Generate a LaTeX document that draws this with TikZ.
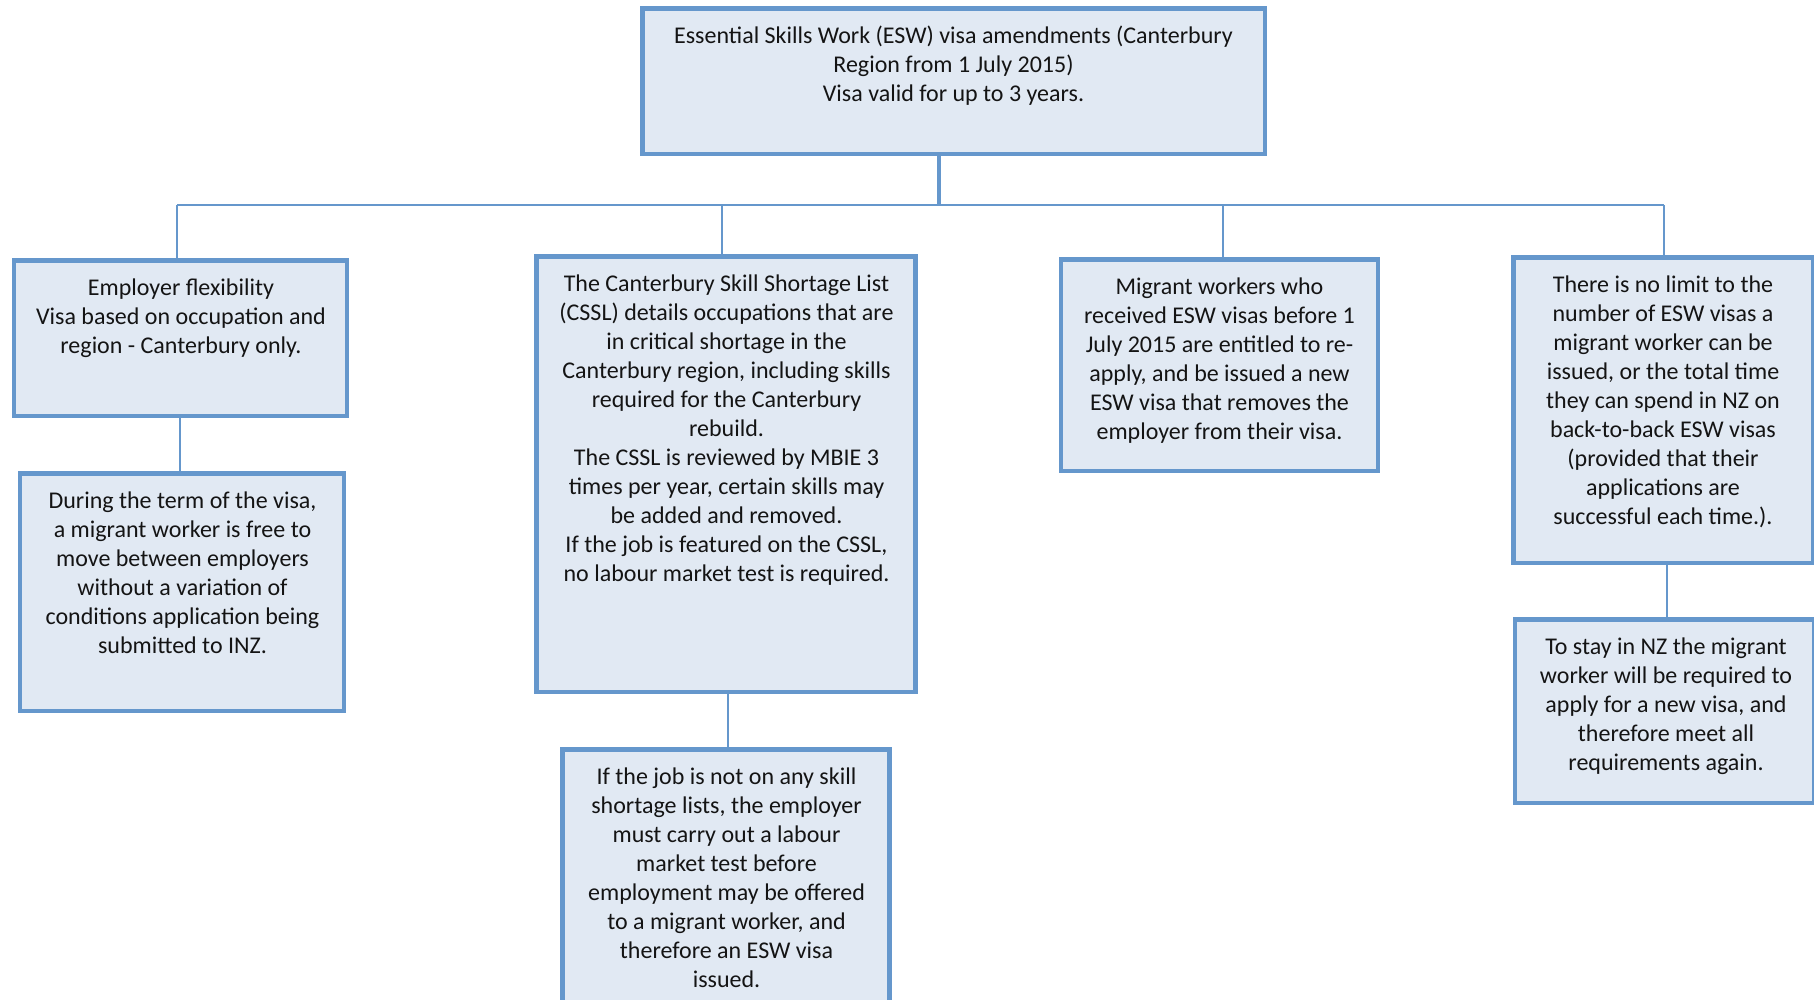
\documentclass[tikz,border=0pt]{standalone}
\usepackage{fontspec}
\setmainfont{Carlito}
\definecolor{boxline}{RGB}{101,151,204}
\definecolor{boxfill}{RGB}{225,233,243}
\definecolor{txtcol}{RGB}{20,20,20}
\begin{document}
\begin{tikzpicture}[x=1pt,y=-1pt,
  box/.style={draw=boxline, fill=boxfill, line width=4.5pt, rectangle, inner sep=0pt},
  txt/.style={anchor=north, align=center, inner sep=0pt, text=txtcol, font=\fontsize{24}{29}\selectfont},
  conn/.style={draw=boxline, line width=2.5pt},
  stem/.style={draw=boxline, line width=4pt}]
\clip (0,0) rectangle (1814,999);
\fill[white] (0,0) rectangle (1814,999);

% boxes
\node[box, minimum width=622.5pt, minimum height=145.5pt] (top) at (953.5,81) {};
\node[box, minimum width=333pt, minimum height=155.5pt] (A) at (180.5,338) {};
\node[box, minimum width=324pt, minimum height=237.5pt] (A2) at (182,592) {};
\node[box, minimum width=379pt, minimum height=435.5pt] (B) at (726,474) {};
\node[box, minimum width=327pt, minimum height=258.5pt] (B2) at (726,878.5) {};
\node[box, minimum width=317pt, minimum height=211.5pt] (C) at (1219.5,365) {};
\node[box, minimum width=300pt, minimum height=305.5pt] (D) at (1663.5,410) {};
\node[box, minimum width=299pt, minimum height=183.5pt] (D2) at (1664.5,711) {};

% connectors
\coordinate (bus) at (939,205);
\coordinate (busL) at (177,205);
\coordinate (busB) at (722,205);
\coordinate (busC) at (1223,205);
\coordinate (busR) at (1664,205);
\draw[stem] (top.south -| bus) -- (bus);
\draw[conn] (busL) -- (busR);
\draw[conn] (busL) -- (busL |- A.north);
\draw[conn] (busB) -- (busB |- B.north);
\draw[conn] (busC) -- (busC |- C.north);
\draw[conn] (busR) -- (busR |- D.north);
\coordinate (ja) at (180,0);
\coordinate (jb) at (728,0);
\coordinate (jd) at (1667,0);
\draw[conn] (A.south -| ja) -- (A2.north -| ja);
\draw[conn] (B.south -| jb) -- (B2.north -| jb);
\draw[conn] (D.south -| jd) -- (D2.north -| jd);

% texts
\node[txt] (topT) at (953.5,23) {\strut Essential Skills Work (ESW) visa amendments (Canterbury\\Region from 1 July 2015)\\Visa valid for up to 3 years.};
\node[txt] (AT) at (181,275) {\strut Employer flexibility\\Visa based on occupation and\\region - Canterbury only.};
\node[txt] (A2T) at (182.5,488) {\strut During the term of the visa,\\a migrant worker is free to\\move between employers\\without a variation of\\conditions application being\\submitted to INZ.};
\node[txt] (BT) at (726.5,271) {\strut The Canterbury Skill Shortage List\\(CSSL) details occupations that are\\in critical shortage in the\\Canterbury region, including skills\\required for the Canterbury\\rebuild.\\The CSSL is reviewed by MBIE 3\\times per year, certain skills may\\be added and removed.\\If the job is featured on the CSSL,\\no labour market test is required.};
\node[txt] (B2T) at (726.5,764) {\strut If the job is not on any skill\\shortage lists, the employer\\must carry out a labour\\market test before\\employment may be offered\\to a migrant worker, and\\therefore an ESW visa\\issued.};
\node[txt] (CT) at (1219.5,274) {\strut Migrant workers who\\received ESW visas before 1\\July 2015 are entitled to re-\\apply, and be issued a new\\ESW visa that removes the\\employer from their visa.};
\node[txt] (DT) at (1663,272) {\strut There is no limit to the\\number of ESW visas a\\migrant worker can be\\issued, or the total time\\they can spend in NZ on\\back-to-back ESW visas\\(provided that their\\applications are\\successful each time.).};
\node[txt] (D2T) at (1666,634) {\strut To stay in NZ the migrant\\worker will be required to\\apply for a new visa, and\\therefore meet all\\requirements again.};
\end{tikzpicture}
\end{document}
